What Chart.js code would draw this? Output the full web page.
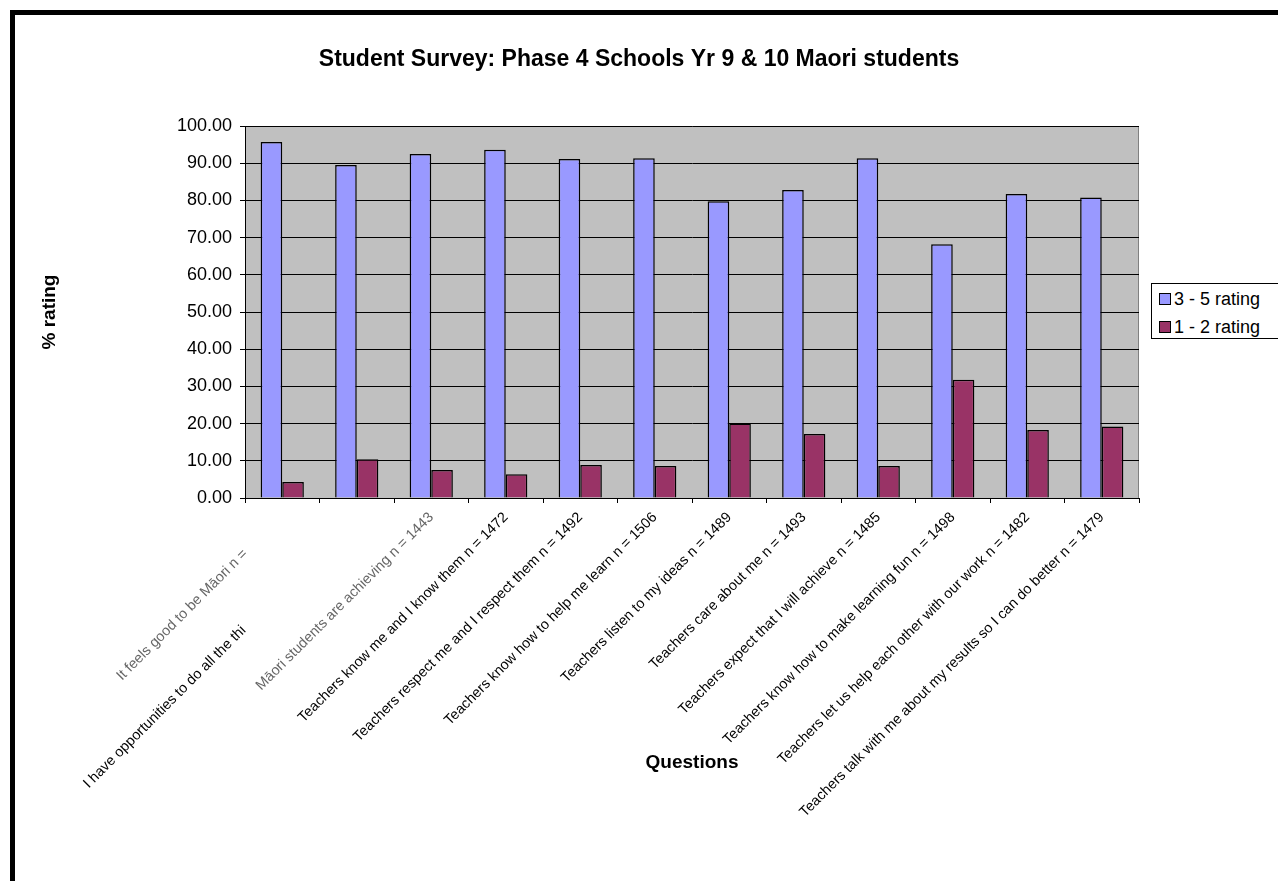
<!DOCTYPE html>
<html>
<head>
<meta charset="utf-8">
<script src="https://cdn.jsdelivr.net/npm/chart.js@4/dist/chart.umd.min.js"></script>
<style>
    body { margin: 0; background: #fff; overflow: hidden; }
    #frame { position: absolute; left: 10px; top: 10px; width: 1300px; height: 900px; border: 5px solid #000; box-sizing: border-box; }
    #wrap { position: absolute; left: 0; top: 0; width: 1278px; height: 881px; }
    #legend { position: absolute; left: 1151px; top: 283px; width: 130px; height: 56px; border: 1px solid #000; background: #fff;
              font-family: "Liberation Sans", Arial, sans-serif; font-size: 18px; color: #000; padding: 2px 0 0 7px; box-sizing: border-box; }
    #legend div { height: 28px; line-height: 26px; white-space: nowrap; }
    #legend span { display: inline-block; width: 10px; height: 10px; border: 1.5px solid #000; margin-right: 3px; vertical-align: 0px; }
</style>
</head>
<body>
<div id="frame"></div>
<div id="wrap"><canvas id="chart" width="1278" height="881"></canvas></div>
<div id="legend"></div>
<script>
// Data (first two labels are cut off in the original)
const questions = [
    'It feels good to be M\u0101ori n =             ',
    'I have opportunities to do all the thi                                        ',
    'M\u0101ori students are achieving n = 1443',
    'Teachers know me and I know them n = 1472',
    'Teachers respect me and I respect them n = 1492',
    'Teachers know how to help me learn n = 1506',
    'Teachers listen to my ideas n = 1489',
    'Teachers care about me n = 1493',
    'Teachers expect that I will achieve n = 1485',
    'Teachers know how to make learning fun n = 1498',
    'Teachers let us help each other with our work n = 1482',
    'Teachers talk with me about my results so I can do better n = 1479'
];
const rating35 = [95.7, 89.5, 92.5, 93.6, 91.1, 91.3, 79.8, 82.8, 91.3, 68.2, 81.7, 80.8];
const rating12 = [4.3, 10.4, 7.5, 6.4, 8.9, 8.6, 20.0, 17.2, 8.6, 31.8, 18.3, 19.2];
const seriesNames = ['3 - 5 rating', '1 - 2 rating'];
const seriesColors = ['#9999FF', '#993366'];

const FONT = '"Liberation Sans", Arial, sans-serif';

// grey plot area like the old Excel charts
const plotBackground = {
    id: 'plotBackground',
    beforeDraw(chart) {
        const { ctx, chartArea: a } = chart;
        ctx.save();
        ctx.fillStyle = '#C0C0C0';
        ctx.fillRect(a.left, a.top, a.right - a.left, a.bottom - a.top);
        ctx.strokeStyle = '#808080';
        ctx.lineWidth = 1;
        ctx.strokeRect(a.left + 0.5, a.top + 0.5, a.right - a.left - 1, a.bottom - a.top);
        ctx.restore();
    }
};

const chart = new Chart(document.getElementById('chart'), {
    type: 'bar',
    data: {
        labels: questions,
        datasets: [
            { label: seriesNames[0], data: rating35, backgroundColor: seriesColors[0], borderColor: '#000', borderWidth: 1.5 },
            { label: seriesNames[1], data: rating12, backgroundColor: seriesColors[1], borderColor: '#000', borderWidth: 1.5 }
        ]
    },
    options: {
        responsive: false,
        animation: false,
        layout: { padding: { left: 0, right: 0, top: 40, bottom: 60 } },
        plugins: {
            legend: { display: false },
            tooltip: { enabled: false },
            title: {
                display: true,
                text: 'Student Survey: Phase 4 Schools Yr 9 & 10 Maori students',
                color: '#000',
                font: { family: FONT, size: 23, weight: 'bold' },
                padding: { top: 6, bottom: 52.4 }
            }
        },
        datasets: { bar: { categoryPercentage: 0.58, barPercentage: 1.0 } },
        scales: {
            x: {
                offset: true,
                grid: { offset: true, drawOnChartArea: false, drawTicks: true, tickLength: 5, color: '#000' },
                border: { color: '#000', width: 1 },
                ticks: {
                    color: c => (c.index === 0 || c.index === 2) ? '#666' : '#000',
                    font: { family: FONT, size: 14.4 }, maxRotation: 45, minRotation: 45, autoSkip: false, padding: 6
                },
                title: { display: true, text: 'Questions', color: '#000', font: { family: FONT, size: 19, weight: 'bold' }, padding: { top: 0, bottom: 47 } },
                afterFit(scale) { scale.height = 323; }
            },
            y: {
                min: 0,
                max: 100,
                ticks: {
                    stepSize: 10, color: '#000', padding: 8,
                    font: { family: FONT, size: 18 },
                    callback: v => v.toFixed(2)
                },
                grid: { color: '#000', lineWidth: 1, tickLength: 5, drawTicks: true },
                border: { color: '#000', width: 1 },
                title: { display: true, text: '% rating', color: '#000', font: { family: FONT, size: 19, weight: 'bold' }, padding: { top: 38, bottom: 0 } },
                afterFit(scale) { scale.width = 245; }
            },
            // empty box on the right that keeps room for the legend
            side: {
                position: 'right',
                display: true,
                grid: { display: false },
                border: { display: false },
                ticks: { display: false },
                afterFit(scale) { scale.width = 139; }
            }
        }
    },
    plugins: [plotBackground]
});

// legend box drawn beside the plot
document.getElementById('legend').innerHTML = seriesNames.map((n, i) =>
    `<div><span style="background:${seriesColors[i]}"></span>${n}</div>`).join('');
</script>
</body>
</html>
